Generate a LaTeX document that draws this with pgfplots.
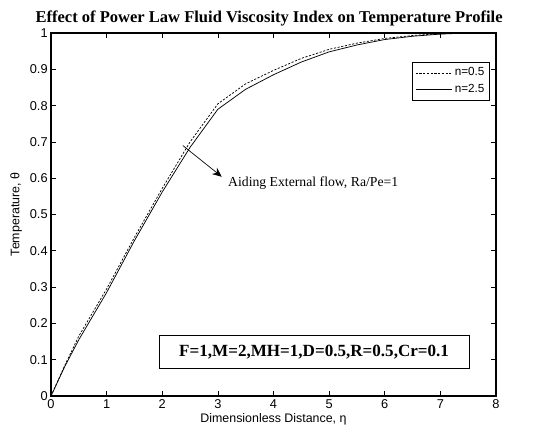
\documentclass[border=0pt]{standalone}
\usepackage{fontspec}
\setmainfont{Liberation Serif}
\setsansfont{Liberation Sans}
\usepackage{pgfplots}
\pgfplotsset{compat=1.18}
\usetikzlibrary{arrows.meta}
\begin{document}
\begin{tikzpicture}
\begin{axis}[
  scale only axis,
  width=333.75pt, height=272.25pt,
  xmin=0, xmax=8, ymin=0, ymax=1,
  xtick={0,1,...,8},
  ytick={0,0.1,...,1},
  yticklabels={0,0.1,0.2,0.3,0.4,0.5,0.6,0.7,0.8,0.9,1},
  tick align=inside,
  major tick length=4pt,
  axis line style={line width=0.9pt},
  every tick/.style={black, line width=0.5pt},
  /pgf/number format/assume math mode=true,
  ticklabel style={font=\sffamily\fontsize{9.6}{11}\selectfont},
  xticklabel style={yshift=1pt},
  yticklabel style={xshift=1pt},
  xlabel={Dimensionless Distance, η},
  ylabel={Temperature, θ},
  label style={font=\sffamily\fontsize{9.3}{11}\selectfont},
  xlabel style={yshift=3pt},
  ylabel style={yshift=-1pt},
  legend style={at={(rel axis cs:0.987,0.92)}, anchor=north east,
    font=\sffamily\fontsize{8.8}{10}\selectfont, draw=black, line width=0.6pt,
    inner sep=2pt, row sep=1pt},
  legend cell align=left,
  legend image post style={line width=0.5pt},
  legend image code/.code={\draw[#1] (0cm,0cm) -- (0.95cm,0cm);},
]
\addplot[black, line width=0.55pt, dash pattern=on 1.6pt off 1.2pt] coordinates {
(0,0) (0.25,0.085) (0.5,0.165) (1,0.295) (1.5,0.437) (2,0.572) (2.5,0.70)
(3,0.805) (3.5,0.86) (4,0.897) (4.5,0.93) (5,0.955) (5.5,0.972) (6,0.985)
(6.5,0.993) (7,0.998) (7.5,1) (8,1)};
\addlegendentry{n=0.5}
\addplot[black, line width=0.55pt] coordinates {
(0,0) (0.25,0.082) (0.5,0.155) (1,0.285) (1.5,0.428) (2,0.562) (2.5,0.685)
(3,0.79) (3.5,0.845) (4,0.885) (4.5,0.92) (5,0.948) (5.5,0.967) (6,0.982)
(6.5,0.991) (7,0.997) (7.5,1) (8,1)};
\addlegendentry{n=2.5}
\draw[black, line width=0.5pt, -{Stealth[length=7pt,width=6pt]}] (axis cs:2.37,0.69) -- (axis cs:3.07,0.604);
\node[anchor=west, font=\fontsize{10.3}{12}\selectfont, inner sep=0pt] at (axis cs:3.18,0.587) {Aiding External flow, Ra/Pe=1};
\node[draw=black, line width=0.6pt, minimum width=232.5pt, minimum height=24.75pt, font=\bfseries\fontsize{12.8}{14}\selectfont] at (axis cs:4.73,0.122) {F=1,M=2,MH=1,D=0.5,R=0.5,Cr=0.1};
\end{axis}
\path (current axis.south west) ++(-38.25pt,-32.25pt) coordinate (bl);
\path (current axis.north east) ++(35.25pt,24.75pt) coordinate (tr);
\path (bl) rectangle (tr);
\path (current axis.north west) -- (current axis.north east)
  node[pos=0.49, anchor=base, yshift=7.8pt, inner sep=0pt, font=\bfseries\fontsize{12.4}{15}\selectfont]
  {Effect of Power Law Fluid Viscosity Index on Temperature Profile};
\end{tikzpicture}
\end{document}
